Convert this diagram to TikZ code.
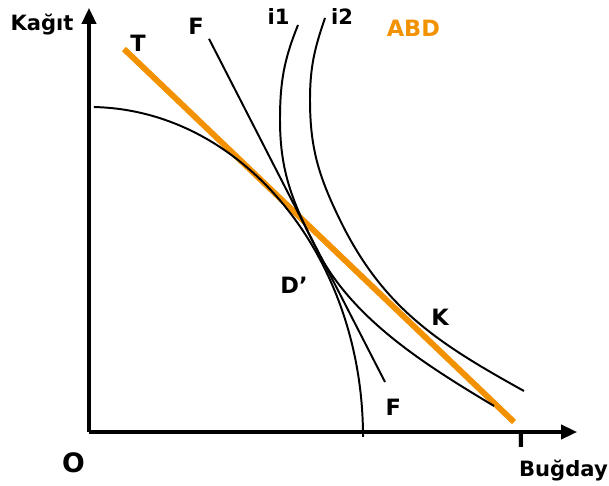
\documentclass[tikz,border=0pt]{standalone}
\usepackage{fontspec}
\setmainfont{DejaVu Sans}
\usetikzlibrary{arrows.meta}
\definecolor{tradeorange}{RGB}{243,146,0}

\begin{document}
\begin{tikzpicture}[
    % Define axis style
    axis/.style={-{Triangle[length=0.4cm, width=0.36cm]}, line width=2.2pt},
    curve/.style={line width=1.4pt}, % Frontier, price and indifference curves
    tradeline/.style={tradeorange, line width=4.2pt},
    lbl/.style={font=\bfseries\fontsize{16}{18}\selectfont, anchor=base, inner sep=0pt},
    axislbl/.style={font=\bfseries\fontsize{15}{17}\selectfont, anchor=base, inner sep=0pt}
]

% Fix the page to the reference proportions
\useasboundingbox (-2.225,-1.325) rectangle (13.0,10.8);

% Define radii of the production frontier
\def\ra{6.85}
\def\rb{8.25}

% Axes
\coordinate (O) at (0,0);
\coordinate (ytip) at (0,10.6);
\coordinate (xtip) at (12.2,0);
\draw[axis] (O) -- (ytip);
\draw[axis] (O) -- (xtip);

% Axis Labels
\node[axislbl] (kagit) at (-1.175,10.025) {Kağıt};
\node[axislbl, anchor=base east] (bugday) at (12.975,-1.1) {Buğday};
\node[lbl, font=\bfseries\fontsize{19}{21}\selectfont] (origin) at (-0.39,-1.0) {O};

% Trade line (drawn first, black curves sit on top)
\coordinate (T1) at (0.875,9.575);
\coordinate (T2) at (10.625,0.25);
\draw[tradeline] (T1) -- (T2);

% Production possibility frontier
\coordinate (ppftop) at (0.12,8.124);
\draw[curve] (ppftop) arc[start angle=89, end angle=0, x radius=\ra, y radius=\rb];

% Domestic price line
\coordinate (F1) at (3.0,9.83);
\coordinate (F2) at (7.4,1.25);
\draw[curve] (F1) -- (F2);

% Indifference curve i1 (touches the frontier at P)
\coordinate (P) at (5.7,4.55);
\draw[curve] (5.225,10.175) to[out=248, in=90] (4.775,7.8)
    to[out=270, in=117] (P)
    to[out=-63, in=149, looseness=0.85] (10.125,0.65);

% Indifference curve i2
\draw[curve] (5.9,10.35) to[out=251, in=90] (5.525,8.3)
    to[out=270, in=116] (6.275,5.3)
    to[out=-64, in=151] (10.875,1.025);

% Curve and point labels
\node[lbl] (tTop) at (1.225,9.5) {T};
\node[lbl] (fTop) at (2.675,9.925) {F};
\node[axislbl] (ione) at (4.74,10.175) {i1};
\node[axislbl] (itwo) at (6.325,10.175) {i2};
\node[lbl, text=tradeorange] (abd) at (8.11,9.875) {ABD};
\node[lbl] (dprime) at (5.125,3.475) {D’};
\node[lbl] (kpoint) at (8.775,2.675) {K};
\node[lbl] (fBot) at (7.61,0.425) {F};
\node[lbl] (tBot) at (10.8,-0.375) {T};

\end{tikzpicture}
\end{document}
